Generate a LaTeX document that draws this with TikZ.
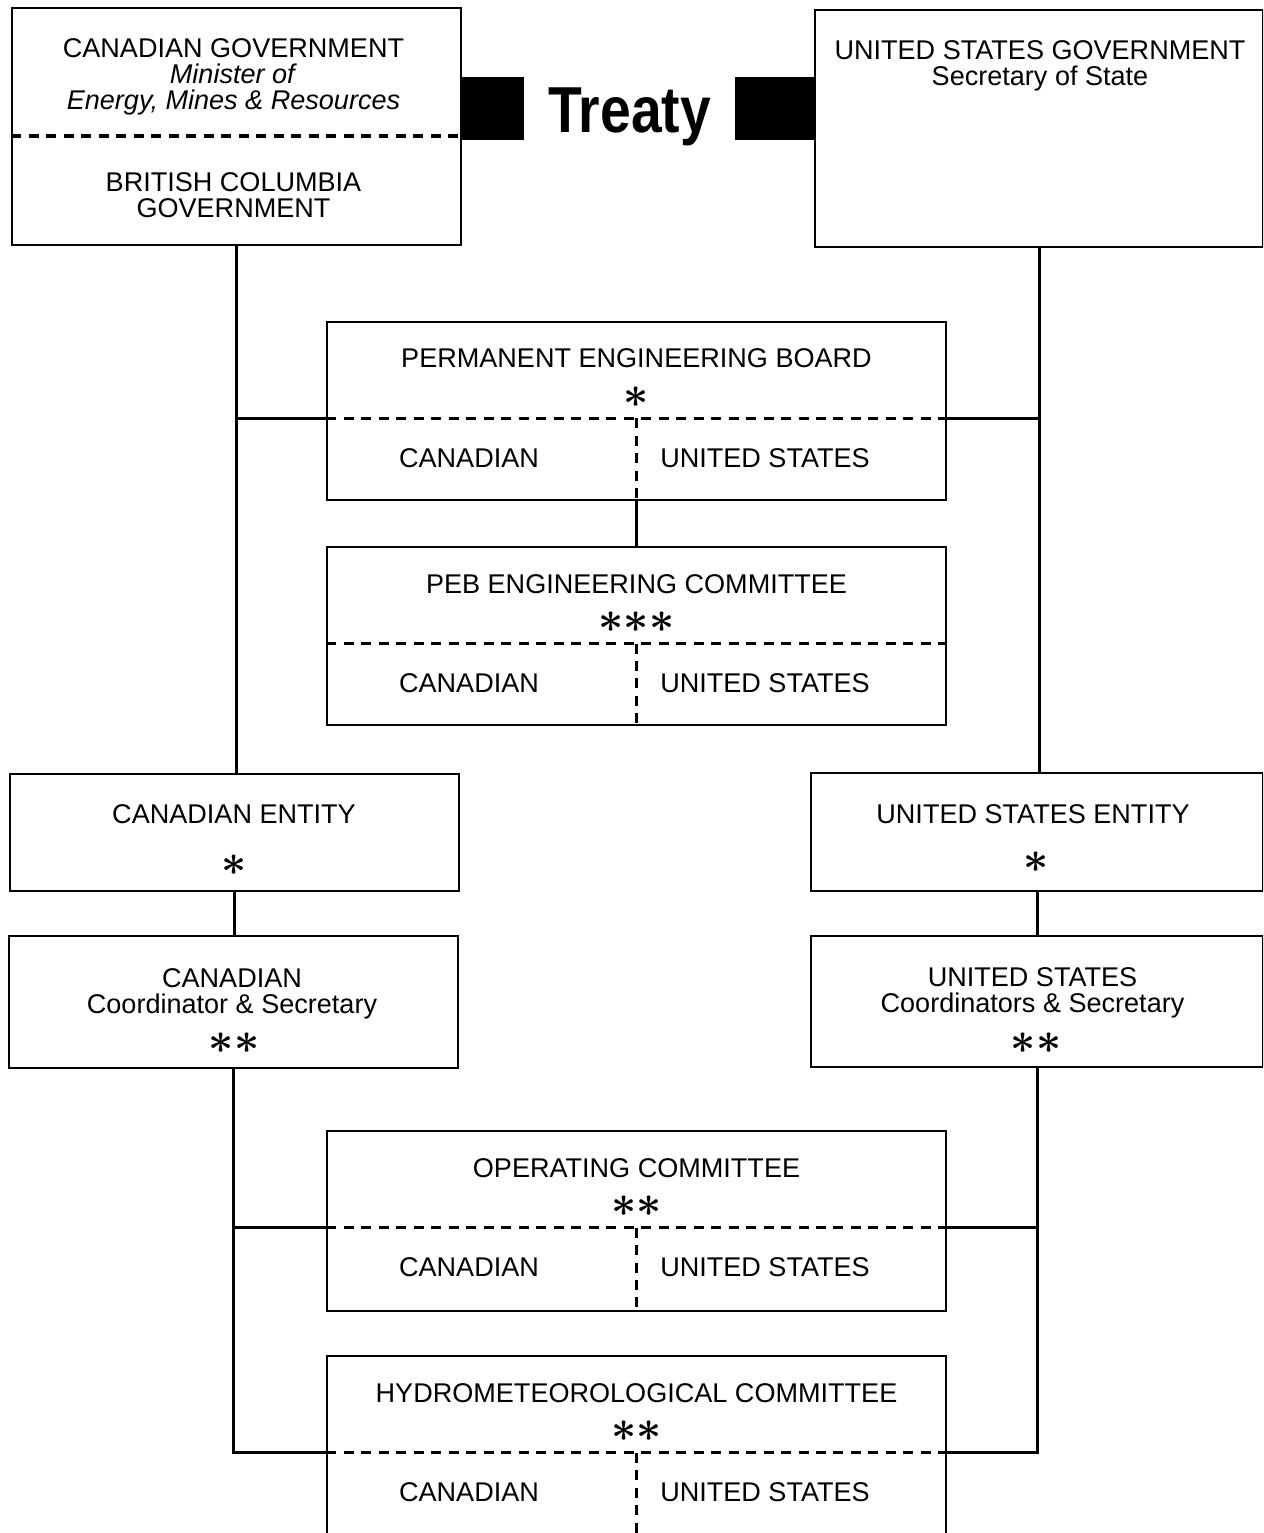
\documentclass[tikz,border=0pt]{standalone}
\usepackage{fontspec}
\usepackage{bm}
\setmainfont{Liberation Sans}
\tikzset{
  box/.style={draw, line width=1.1pt, inner sep=0pt},
  txt/.style={inner sep=0pt, font=\fontsize{15.4}{14.8}\selectfont, align=center},
  star/.style={inner sep=0pt, font=\fontsize{24}{24}\selectfont},
  link/.style={line width=1.7pt},
  divider/.style={line width=2pt, dash pattern=on 0.2cm off 0.15cm},
  bar/.style={line width=1.26cm},
  treaty/.style={inner xsep=0.48cm, inner ysep=0pt, text height=1.28cm, text depth=0.3cm,
    font=\fontsize{37}{37}\selectfont\bfseries}
}
\newcommand{\astrow}[1]{\ifcase#1\or$\bm{\ast}$\or${\bm{\ast}}{\bm{\ast}}$\or${\bm{\ast}}{\bm{\ast}}{\bm{\ast}}$\fi}
\begin{document}
\begin{tikzpicture}[x=0.02cm, y=-0.02cm]
  \clip (0,0) rectangle (1263,1533);
  % Governments and treaty
  \node[box, minimum width=8.98cm, minimum height=4.74cm] (cgov) at (236.5,126.5) {};
  \node[box, minimum width=8.96cm, minimum height=4.74cm] (usgov) at (1039,128.5) {};
  \coordinate (cdiv) at (0,136);
  \draw[divider] (cgov.west |- cdiv) -- (cgov.east |- cdiv);
  \node[txt, anchor=north] (cgov-t) at (233.5,38) {CANADIAN GOVERNMENT\\\textit{Minister of}\\\textit{Energy, Mines \& Resources}};
  \node[txt, anchor=north] (bc-t) at (233.5,172) {BRITISH COLUMBIA\\GOVERNMENT};
  \node[txt, anchor=north] (usgov-t) at (1040,40) {UNITED STATES GOVERNMENT\\Secretary of State};
  \node[treaty] (treaty) at (629.5,108.5) {\scalebox{0.85}[1]{Treaty}};
  \draw[bar] (cgov.east |- treaty) -- (treaty.west);
  \draw[bar] (treaty.east) -- (usgov.west |- treaty);
  % Joint boards and committees
  \foreach \n/\top/\h/\title/\s in {peb/322/178/PERMANENT ENGINEERING BOARD/1,
      pebec/547/178/PEB ENGINEERING COMMITTEE/3,
      opc/1131/180/OPERATING COMMITTEE/2,
      hyd/1356/200/HYDROMETEOROLOGICAL COMMITTEE/2} {
    \node[box, minimum width=12.38cm, minimum height=\h*0.02cm] (\n) at (636.5,\top+\h/2) {};
    \coordinate (\n-d) at (636.5,\top+96.5);
    \draw[divider] (\n.west |- \n-d) -- (\n.east |- \n-d);
    \draw[divider] (\n-d) -- (\n.south);
    \node[txt, anchor=base] (\n-t) at (636.5,\top+46) {\title};
    \node[star] (\n-s) at (636.5,\top+75) {\astrow{\s}};
    \node[txt, anchor=base] (\n-c) at (469,\top+145) {CANADIAN};
    \node[txt, anchor=base] (\n-u) at (765,\top+145) {UNITED STATES};
  }
  % Entities
  \node[box, minimum width=8.98cm, minimum height=2.34cm] (cent) at (234.5,832.5) {};
  \node[box, minimum width=9.04cm, minimum height=2.36cm] (usent) at (1037,832) {};
  \node[box, minimum width=8.98cm, minimum height=2.64cm] (ccoord) at (233.5,1002) {};
  \node[box, minimum width=9.04cm, minimum height=2.62cm] (uscoord) at (1037,1001.5) {};
  \node[txt, anchor=base] (cent-t) at (234,823) {CANADIAN ENTITY};
  \node[star] (cent-s) at (234,865) {\astrow{1}};
  \node[txt, anchor=base] (usent-t) at (1033,823) {UNITED STATES ENTITY};
  \node[star] (usent-s) at (1036,862) {\astrow{1}};
  \node[txt, anchor=north] (ccoord-t) at (232,968) {CANADIAN\\Coordinator \& Secretary};
  \node[star] (ccoord-s) at (234,1043) {\astrow{2}};
  \node[txt, anchor=north] (uscoord-t) at (1032.5,967) {UNITED STATES\\Coordinators \& Secretary};
  \node[star] (uscoord-s) at (1036,1043) {\astrow{2}};
  % Connectors
  \draw[link] (cgov.south) -- (cgov.south |- cent.north);
  \draw[link] (usgov.south) -- (usgov.south |- usent.north);
  \draw[link] (cgov.south |- peb-d) -- (peb.west |- peb-d);
  \draw[link] (peb.east |- peb-d) -- (usgov.south |- peb-d);
  \draw[link] (peb.south) -- (peb.south |- pebec.north);
  \draw[link] (cent.south) -- (cent.south |- ccoord.north);
  \draw[link] (usent.south) -- (usent.south |- uscoord.north);
  \draw[link] (ccoord.south) -- (ccoord.south |- hyd-d) -- (hyd.west |- hyd-d);
  \draw[link] (ccoord.south |- opc-d) -- (opc.west |- opc-d);
  \draw[link] (uscoord.south) -- (uscoord.south |- hyd-d) -- (hyd.east |- hyd-d);
  \draw[link] (uscoord.south |- opc-d) -- (opc.east |- opc-d);
\end{tikzpicture}
\end{document}
